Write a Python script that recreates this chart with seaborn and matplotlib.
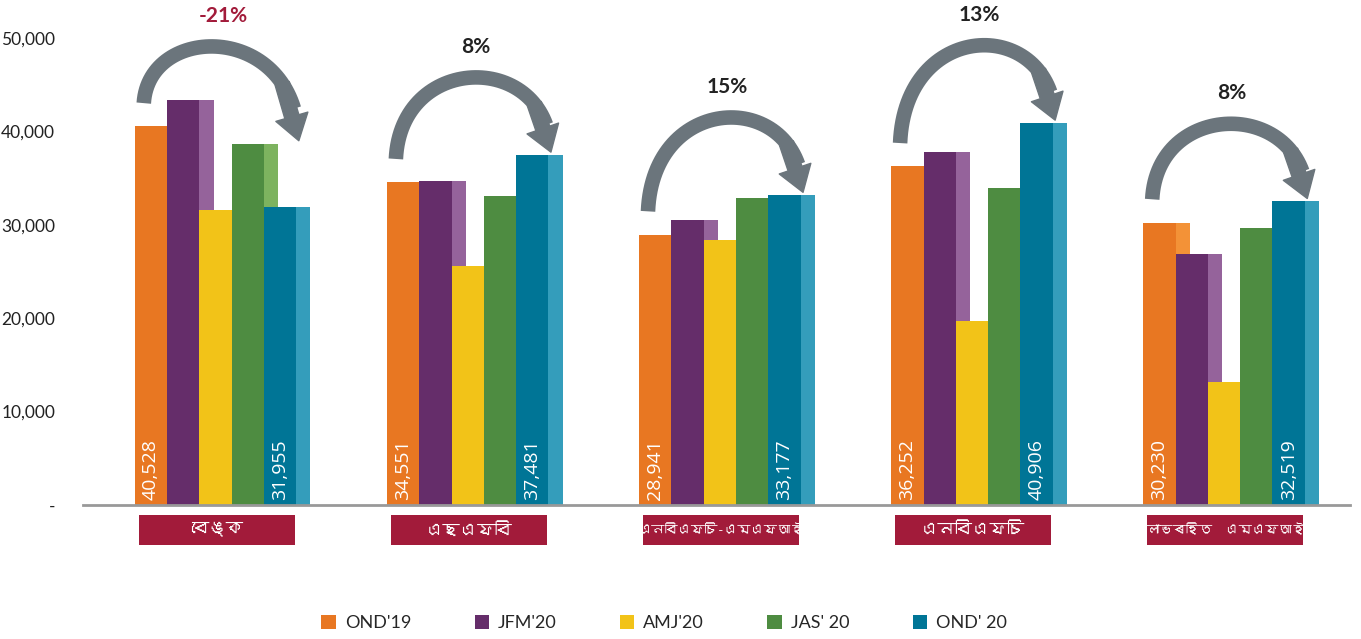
import numpy as np
import pandas as pd
import matplotlib
matplotlib.use("Agg")
import matplotlib.pyplot as plt
import seaborn as sns
from matplotlib import font_manager
from matplotlib.ft2font import FT2Font
from matplotlib.patches import Rectangle, FancyArrowPatch
import matplotlib.transforms as mtransforms

# Data
categories = ["বেঙ্ক", "এছএফবি", "এনবিএফচি-এমএফআই", "এনবিএফচি", "লাভৰহিত  এমএফআই"]
periods = ["OND'19", "JFM'20", "AMJ'20", "JAS' 20", "OND' 20"]
ond19 = [40528, 34551, 28941, 36252, 30230]
jfm20 = [43400, 34700, 30500, 37800, 26900]
amj20 = [31600, 25600, 28400, 19700, 13200]
jas20 = [38700, 33100, 32900, 33900, 29700]
ond20 = [31955, 37481, 33177, 40906, 32519]
growth = ["-21%", "8%", "15%", "13%", "8%"]

front_colors = ["#E87722", "#652D6A", "#F2C318", "#4E8C41", "#007596"]
side_colors = ["#F39237", "#95639B", "#F5D04A", "#7DB35F", "#349DBB"]
box_red = "#A21B3A"
arrow_grey = "#6B757C"

# find a font that can draw Bengali script
bengali = []
for f in font_manager.fontManager.ttflist:
    try:
        if 0x09AC in FT2Font(f.fname).get_charmap():
            bengali.append(f.name)
    except Exception:
        pass
bengali = list(dict.fromkeys(bengali))

sns.set_style("white")
plt.rcParams['font.family'] = ['Lato', 'DejaVu Sans']

df = pd.DataFrame({
    "category": np.repeat(categories, len(periods)),
    "period": periods * len(categories),
    "value": np.array([ond19, jfm20, amj20, jas20, ond20]).T.ravel(),
})

fig = plt.figure(figsize=(13.61, 6.39), dpi=100)
ax = fig.add_axes([0.061, 0.2097, 0.931, 0.7903])

sns.barplot(data=df, x="category", y="value", hue="period", order=categories,
            hue_order=periods, palette=front_colors, width=0.64, saturation=1,
            linewidth=0, legend=False, ax=ax)

# side faces (fake 3d look), drawn under the next bar in the group
side_w = 0.056
n_cat = len(categories)
for i, bar in enumerate(ax.patches[:n_cat * len(periods)]):
    k = i // n_cat
    bar.set_zorder(2 + k)
    side = Rectangle((bar.get_x() + bar.get_width(), 0), side_w, bar.get_height(),
                     facecolor=side_colors[k], linewidth=0, zorder=2 + k)
    ax.add_patch(side)

ax.set_xlim(-0.526, 4.50)
ax.set_ylim(0, 54070)
yt = [0, 10000, 20000, 30000, 40000, 50000]
ax.set_yticks(yt)
ax.set_yticklabels(["-" if v == 0 else f"{v:,}" for v in yt], fontsize=12.5, color="#222222")
ax.tick_params(axis="y", direction="in", length=7, width=1, color="#999999", pad=20)
ax.set_xticks([])
ax.set_xlabel("")
ax.set_ylabel("")
for s in ["top", "right", "left"]:
    ax.spines[s].set_visible(False)
ax.spines["bottom"].set_color("#999999")
ax.spines["bottom"].set_linewidth(2)
ax.spines["bottom"].set_zorder(10)

# value labels inside OND'19 and OND'20 bars
for j in range(n_cat):
    for k, vals in [(0, ond19), (4, ond20)]:
        bar = ax.patches[k * n_cat + j]
        ax.text(bar.get_x() + bar.get_width() / 2, 500, f"{vals[j]:,}", rotation=90,
                ha="center", va="bottom", color="white", fontsize=14,
                family=['Open Sans', 'DejaVu Sans'], zorder=20)

# category boxes below the axis
trans = mtransforms.blended_transform_factory(ax.transData, ax.transAxes)
lab_family = bengali + ['DejaVu Sans']
for j, cat in enumerate(categories):
    ax.add_patch(Rectangle((j - 0.305, -0.079), 0.62, 0.059, transform=trans,
                           facecolor=box_red, linewidth=0, clip_on=False))
    fs = 9.5 if len(cat) > 10 else 12.5
    ax.text(j + 0.005, -0.049, cat, transform=trans, ha="center", va="center",
            color="white", fontsize=fs, family=lab_family)


def bezier(p, t):
    t = np.asarray(t)[:, None]
    p = np.asarray(p)
    return ((1 - t) ** 3 * p[0] + 3 * (1 - t) ** 2 * t * p[1]
            + 3 * (1 - t) * t ** 2 * p[2] + t ** 3 * p[3])


# curved arrows (cubic, close to a half circle) and growth labels
for j in range(n_cat):
    x0, y0 = j - 0.285, ond19[j] + 2500
    x1, y1 = j + 0.33, max(jas20[j], ond20[j]) + 300
    apex = max(y0 + 6000, y1 + 8000)
    top = (apex - 0.125 * (y0 + y1)) / 0.75
    ctrl = [(x0, y0), (x0 + 0.02, top), (x1 - 0.01, top), (x1, y1)]
    body = bezier(ctrl, np.linspace(0, 0.9, 60))
    ax.plot(body[:, 0], body[:, 1], color=arrow_grey, lw=10.5,
            solid_capstyle="butt", zorder=15, clip_on=False)
    head = bezier(ctrl, [0.8, 1.0])
    ax.add_patch(FancyArrowPatch(tuple(head[0]), tuple(head[1]),
                                 arrowstyle="simple,tail_width=10.5,head_width=24,head_length=18",
                                 color=arrow_grey, shrinkA=0, shrinkB=0, zorder=15,
                                 mutation_scale=1, clip_on=False))
    ax.text(j + 0.03, apex + 3300, growth[j], ha="center", va="center",
            fontsize=15, fontweight="bold",
            color=box_red if growth[j].startswith("-") else "#222222", zorder=20)

handles = [Rectangle((0, 0), 1, 1, facecolor=c, linewidth=0) for c in front_colors]
fig.legend(handles, periods, loc="center", bbox_to_anchor=(0.488, 0.025), ncol=5,
           frameon=False, fontsize=13, handlelength=0.8, handleheight=0.8,
           handletextpad=0.5, columnspacing=3.5)

fig.savefig("out.png", dpi=100)
